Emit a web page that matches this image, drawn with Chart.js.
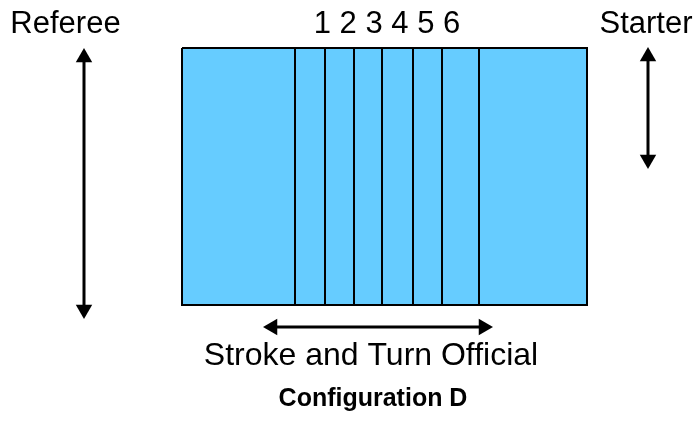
<!DOCTYPE html>
<html>
<head>
<meta charset="utf-8">
<script src="https://cdn.jsdelivr.net/npm/chart.js@4"></script>
<style>
  html, body { margin: 0; padding: 0; background: #fff; }
  #wrap { width: 699px; height: 421px; }
</style>
</head>
<body>
<div id="wrap"><canvas id="myChart"></canvas></div>
<script>
// pool geometry, in page units (x right, y down)
var laneEdges = [182, 295, 325, 354, 382, 413, 442, 479, 587];
var poolTop = 48;
var poolBottom = 305;
var laneNumbers = ["1", "2", "3", "4", "5", "6"];

// arrows: [x1, y1, x2, y2] tip to tip
var refereeArrow = [84, 48, 84, 319];
var starterArrow = [648, 47, 648, 169];
var strokeArrow = [263, 327, 493, 327];

// labels and where they sit
var labelTexts = ["Referee", laneNumbers.join(" "), "Starter", "Stroke and Turn Official"];
var labelX = [65.5, 387, 646, 371];
var labelY = [33, 33, 33, 365];
var labelSize = [31, 31, 31, 32];
var captionText = "Configuration D";

var poolColor = "#66CCFF";
var headSize = 9.5;

// turn tip-to-tip arrow into a line with triangle heads
function arrowDataset(a) {
  var dx = a[2] - a[0], dy = a[3] - a[1];
  var len = Math.sqrt(dx * dx + dy * dy);
  var ux = dx / len, uy = dy / len;
  var angle = Math.atan2(dy, dx) * 180 / Math.PI;
  return {
    type: "line",
    order: 0,
    data: [
      { x: a[0] + ux * headSize, y: a[1] + uy * headSize },
      { x: a[2] - ux * headSize, y: a[3] - uy * headSize }
    ],
    borderColor: "#000",
    backgroundColor: "#000",
    borderWidth: 3,
    pointStyle: "triangle",
    pointRadius: headSize,
    pointHoverRadius: headSize,
    pointRotation: [angle + 270, angle + 90],
    pointBorderWidth: 0,
    fill: false
  };
}

var datasets = [];

// the pool itself (drawn underneath everything)
datasets.push({
  type: "line",
  order: 10,
  data: [
    { x: laneEdges[0], y: poolTop },
    { x: laneEdges[laneEdges.length - 1], y: poolTop },
    { x: laneEdges[laneEdges.length - 1], y: poolBottom },
    { x: laneEdges[0], y: poolBottom },
    { x: laneEdges[0], y: poolTop }
  ],
  borderColor: "#000",
  backgroundColor: poolColor,
  borderWidth: 2,
  pointRadius: 0,
  fill: "shape"
});

// lane ropes
for (var i = 1; i < laneEdges.length - 1; i++) {
  datasets.push({
    type: "line",
    order: 1,
    data: [{ x: laneEdges[i], y: poolTop }, { x: laneEdges[i], y: poolBottom }],
    borderColor: "#000",
    borderWidth: 2,
    pointRadius: 0,
    fill: false
  });
}

datasets.push(arrowDataset(refereeArrow));
datasets.push(arrowDataset(starterArrow));
datasets.push(arrowDataset(strokeArrow));

// writes the labels at their data positions
var textPlugin = {
  id: "poolText",
  afterDatasetsDraw: function(chart) {
    var ctx = chart.ctx;
    var xs = chart.scales.x, ys = chart.scales.y;
    ctx.save();
    ctx.fillStyle = "#000";
    ctx.textAlign = "center";
    ctx.textBaseline = "alphabetic";
    for (var i = 0; i < labelTexts.length; i++) {
      ctx.font = labelSize[i] + "px 'Liberation Sans', Arial, sans-serif";
      ctx.fillText(labelTexts[i], xs.getPixelForValue(labelX[i]), ys.getPixelForValue(labelY[i]));
    }
    ctx.font = "bold 25px 'Liberation Sans', Arial, sans-serif";
    ctx.fillText(captionText, xs.getPixelForValue(373), ys.getPixelForValue(406));
    ctx.restore();
  }
};

new Chart("myChart", {
  type: "scatter",
  data: { datasets: datasets },
  options: {
    responsive: true,
    maintainAspectRatio: false,
    animation: false,
    layout: { padding: 0, autoPadding: false },
    plugins: {
      legend: { display: false },
      tooltip: { enabled: false }
    },
    scales: {
      x: { type: "linear", min: 0, max: 699, display: false },
      y: { type: "linear", min: 0, max: 421, reverse: true, display: false }
    }
  },
  plugins: [textPlugin]
});
</script>
</body>
</html>
